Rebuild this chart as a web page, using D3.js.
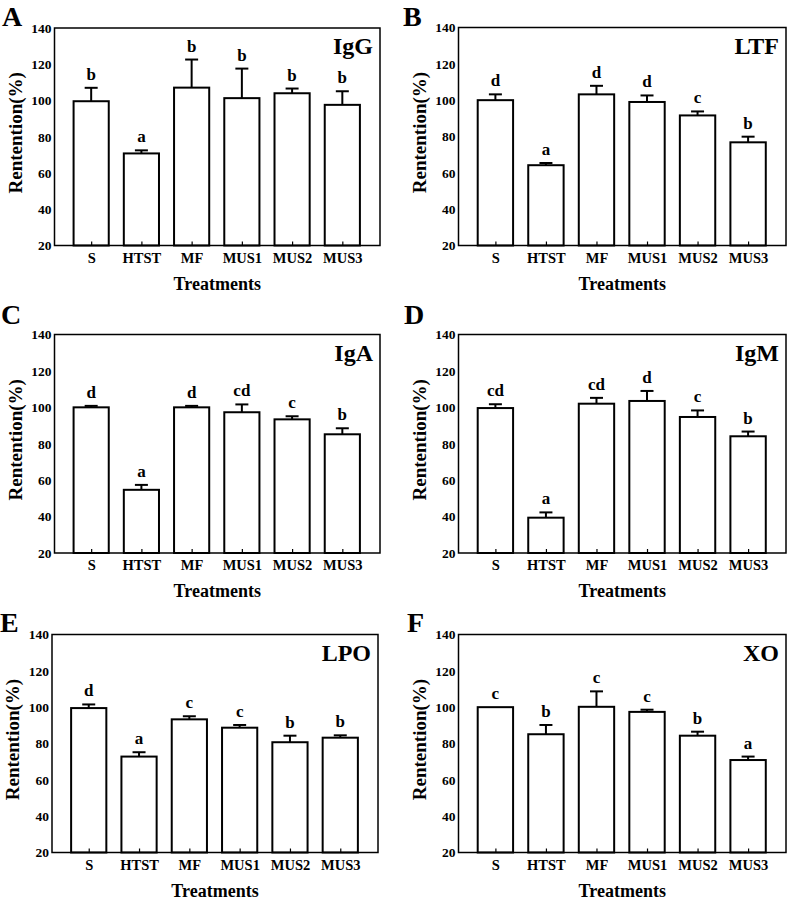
<!DOCTYPE html>
<html>
<head>
<meta charset="utf-8">
<script src="https://cdn.jsdelivr.net/npm/d3@7"></script>
<style>
html,body{margin:0;padding:0;background:#fff;}
svg{display:block;}
text{font-family:"Times New Roman","Liberation Serif",serif;font-weight:bold;fill:#000;}
</style>
</head>
<body>
<div id="chart"></div>
<script>
// ---------- data ----------
const categories = ["S", "HTST", "MF", "MUS1", "MUS2", "MUS3"];
const yTicks = [20, 40, 60, 80, 100, 120, 140];
const panelLetters = ["A", "B", "C", "D", "E", "F"];
const panelTitles = ["IgG", "LTF", "IgA", "IgM", "LPO", "XO"];

const igGValues = [99.6, 70.8, 107.1, 101.3, 104.0, 97.6];
const igGErrors = [7.4, 1.7, 15.5, 16.3, 2.6, 7.5];
const igGGroups = ["b", "a", "b", "b", "b", "b"];

const ltfValues = [100.0, 64.2, 103.2, 99.0, 91.6, 76.8];
const ltfErrors = [3.2, 1.2, 4.7, 3.6, 2.2, 3.1];
const ltfGroups = ["d", "a", "d", "d", "c", "b"];

const igAValues = [100.0, 54.7, 100.0, 97.3, 93.4, 85.2];
const igAErrors = [0.8, 2.7, 0.8, 4.3, 1.7, 3.3];
const igAGroups = ["d", "a", "d", "cd", "c", "b"];

const igMValues = [99.6, 39.4, 102.0, 103.5, 94.7, 84.1];
const igMErrors = [2.1, 2.9, 3.2, 5.5, 3.6, 2.6];
const igMGroups = ["cd", "a", "cd", "d", "c", "b"];

const lpoValues = [99.5, 72.8, 93.3, 88.7, 80.7, 83.2];
const lpoErrors = [2.0, 2.4, 1.7, 1.5, 3.6, 1.3];
const lpoGroups = ["d", "a", "c", "c", "b", "b"];

const xoValues = [100.0, 85.1, 100.2, 97.4, 84.3, 70.9];
const xoErrors = [0.0, 5.1, 8.5, 1.2, 2.2, 1.9];
const xoGroups = ["c", "b", "c", "c", "b", "a"];

const seriesValues = [igGValues, ltfValues, igAValues, igMValues, lpoValues, xoValues];
const seriesErrors = [igGErrors, ltfErrors, igAErrors, igMErrors, lpoErrors, xoErrors];
const seriesGroups = [igGGroups, ltfGroups, igAGroups, igMGroups, lpoGroups, xoGroups];

// ---------- layout ----------
const W = 787, H = 901;
const frames = [
  {l: 54.5, t: 28,    r: 380, b: 245.5, lx: 2,   ly: 26},
  {l: 458.5, t: 27.5, r: 786, b: 245.5, lx: 403, ly: 26},
  {l: 54.5, t: 334.5, r: 380, b: 553,   lx: 1,   ly: 324},
  {l: 458.5, t: 334.5, r: 786, b: 553,  lx: 404, ly: 324},
  {l: 52,   t: 634.5, r: 378, b: 852.5, lx: 0,   ly: 632},
  {l: 458.5, t: 634.5, r: 786, b: 852.5, lx: 407, ly: 632}
];

const svg = d3.select("#chart").append("svg")
  .attr("width", W).attr("height", H);

frames.forEach((f, p) => {
  const values = seriesValues[p], errors = seriesErrors[p], groups = seriesGroups[p];
  const data = categories.map((c, i) => ({c, i: i + 1, v: values[i], e: errors[i], g: groups[i]}));

  const x = d3.scaleLinear().domain([0.27, 6.75]).range([f.l, f.r]);
  const y = d3.scaleLinear().domain([20, 140]).range([f.b, f.t]);
  const bw = x(0.7) - x(0);

  const g = svg.append("g");

  // bars
  g.selectAll("rect.bar").data(data).enter().append("rect")
    .attr("class", "bar")
    .attr("x", d => x(d.i) - bw / 2)
    .attr("y", d => y(d.v))
    .attr("width", bw)
    .attr("height", d => y(20) - y(d.v))
    .attr("fill", "#fff").attr("stroke", "#000").attr("stroke-width", 2);

  // error bars (upper only)
  const eb = g.selectAll("g.err").data(data.filter(d => d.e > 0)).enter().append("g");
  eb.append("line")
    .attr("x1", d => x(d.i)).attr("x2", d => x(d.i))
    .attr("y1", d => y(d.v)).attr("y2", d => y(d.v + d.e))
    .attr("stroke", "#000").attr("stroke-width", 2);
  eb.append("line")
    .attr("x1", d => x(d.i) - 6.5).attr("x2", d => x(d.i) + 6.5)
    .attr("y1", d => y(d.v + d.e)).attr("y2", d => y(d.v + d.e))
    .attr("stroke", "#000").attr("stroke-width", 2);

  // significance letters
  g.selectAll("text.sig").data(data).enter().append("text")
    .attr("class", "sig")
    .attr("x", d => x(d.i))
    .attr("y", d => y(d.v + d.e) - 8)
    .attr("text-anchor", "middle")
    .style("font-size", "17px")
    .text(d => d.g);

  // axes
  const yAxis = d3.axisLeft(y).tickValues(yTicks).tickSize(0).tickPadding(3);
  const ya = g.append("g").attr("transform", `translate(${f.l},0)`).call(yAxis);
  ya.select(".domain").remove();
  ya.selectAll("text").style("font-size", "13.5px").attr("font-family", null);

  const xAxis = d3.axisBottom(x).tickValues(data.map(d => d.i))
    .tickFormat((d, i) => categories[i]).tickSizeInner(-4).tickSizeOuter(0).tickPadding(7);
  const xa = g.append("g").attr("transform", `translate(0,${f.b})`).call(xAxis);
  xa.select(".domain").remove();
  xa.selectAll("line").attr("stroke", "#000").attr("stroke-width", 1.2);
  xa.selectAll("text").style("font-size", "14.5px").attr("font-family", null);

  // frame
  g.append("rect")
    .attr("x", f.l).attr("y", f.t)
    .attr("width", f.r - f.l).attr("height", f.b - f.t)
    .attr("fill", "none").attr("stroke", "#000").attr("stroke-width", 1.5);

  // axis titles
  g.append("text")
    .attr("x", (f.l + f.r) / 2).attr("y", f.b + 44)
    .attr("text-anchor", "middle").style("font-size", "18px")
    .text("Treatments");
  g.append("text")
    .attr("transform", `translate(${f.l - 33},${(f.t + f.b) / 2 - 4}) rotate(-90)`)
    .attr("text-anchor", "middle").style("font-size", "19px")
    .text("Rentention(%)");

  // inner title
  g.append("text")
    .attr("x", f.r - 7).attr("y", f.t + 26)
    .attr("text-anchor", "end").style("font-size", "24px")
    .text(panelTitles[p]);

  // panel letter
  g.append("text")
    .attr("x", f.lx).attr("y", f.ly)
    .style("font-size", "28px")
    .text(panelLetters[p]);
});
</script>
</body>
</html>
